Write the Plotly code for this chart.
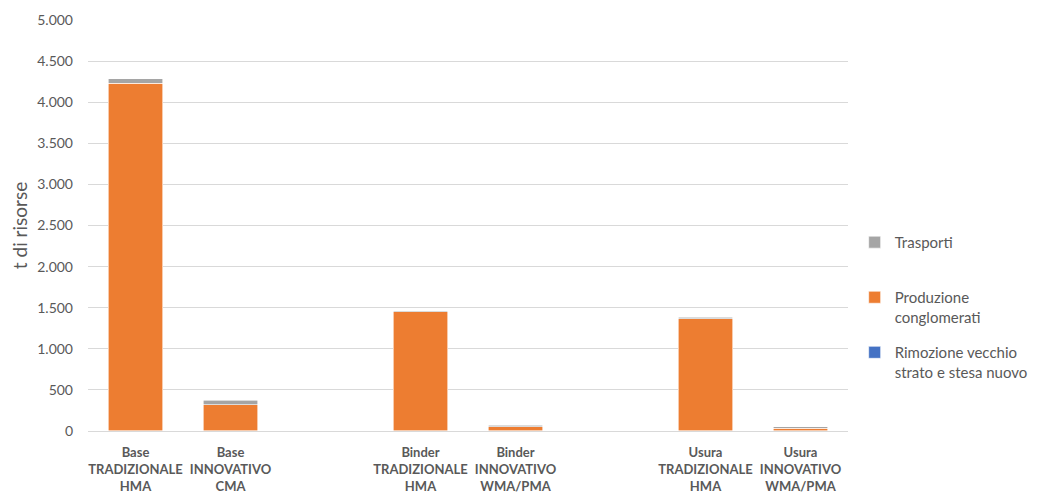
import plotly.graph_objects as go

# ---- data ----
x_pos = [0, 1, 3, 4, 6, 7]
tick_labels = [
    "Base<br>TRADIZIONALE<br>HMA",
    "Base<br>INNOVATIVO<br>CMA",
    "Binder<br>TRADIZIONALE<br>HMA",
    "Binder<br>INNOVATIVO<br>WMA/PMA",
    "Usura<br>TRADIZIONALE<br>HMA",
    "Usura<br>INNOVATIVO<br>WMA/PMA",
]
rimozione = [3, 3, 2, 2, 2, 2]
produzione = [4227, 318, 1446, 50, 1366, 34]
trasporti = [55, 55, 12, 17, 15, 16]

series_names = ["Rimozione vecchio<br>strato e stesa nuovo", "Produzione<br>conglomerati", "Trasporti"]
series_values = [rimozione, produzione, trasporti]
series_colors = ["#4472C4", "#ED7D31", "#A5A5A5"]
legend_ids = ["legend3", "legend2", "legend"]
legend_y = [0.231, 0.365, 0.499]

y_ticks = [0, 500, 1000, 1500, 2000, 2500, 3000, 3500, 4000, 4500, 5000]

FONT = "Lato, 'Open Sans', sans-serif"

fig = go.Figure()
for name, vals, col, lg in zip(series_names, series_values, series_colors, legend_ids):
    fig.add_trace(go.Bar(
        x=x_pos, y=vals, name=name, width=0.57,
        marker=dict(color=col, line=dict(color="rgba(255,255,255,0.8)", width=0.75)),
        legend=lg, showlegend=True,
    ))

def leg(y):
    return dict(
        xref="container", x=0.822, xanchor="left", y=y, yanchor="top", valign="top",
        font=dict(size=15, color="#595959", family=FONT),
        bgcolor="rgba(0,0,0,0)", borderwidth=0,
    )

fig.update_layout(
    width=1030, height=488,
    barmode="stack",
    showlegend=True,
    separators=",.",
    paper_bgcolor="white", plot_bgcolor="white",
    margin=dict(l=80, r=190, t=12, b=65, autoexpand=False),
    font=dict(family=FONT, color="#595959", size=13),
    legend=leg(legend_y[2]),
    legend2=leg(legend_y[1]),
    legend3=leg(legend_y[0]),
    xaxis=dict(
        range=[-0.5, 7.5], tickmode="array", tickvals=x_pos, ticktext=tick_labels,
        showgrid=False, zeroline=False, showline=False, ticks="",
        tickangle=0, ticklabelstandoff=12, automargin=False,
        tickfont=dict(size=13, color="#595959", family=FONT, weight="bold"),
    ),
    yaxis=dict(
        range=[0, 5000], tickvals=y_ticks, tickformat=",d",
        showgrid=True, gridcolor="#D9D9D9", gridwidth=1,
        zeroline=True, zerolinecolor="#D9D9D9", zerolinewidth=1,
        showline=False, ticks="", ticklabelstandoff=14, automargin=False,
        tickfont=dict(size=14, color="#595959"),
        title=dict(text="t di risorse", font=dict(size=19, color="#595959"), standoff=14),
    ),
)

fig.write_html("out.html")
